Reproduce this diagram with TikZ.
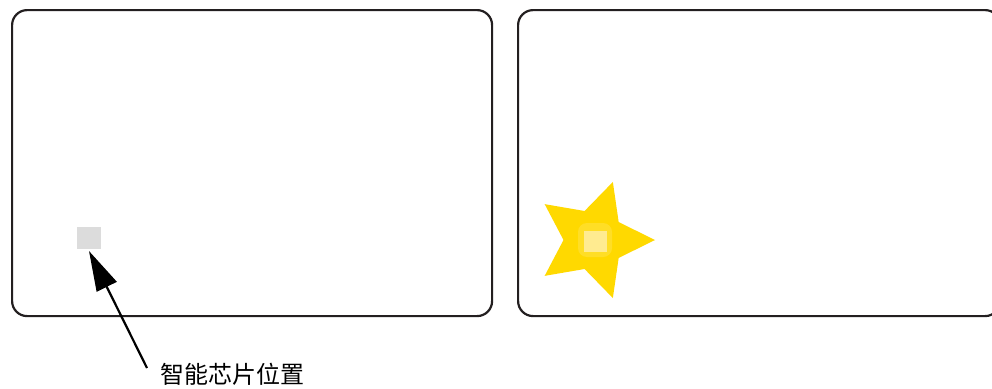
\documentclass[tikz,border=0pt]{standalone}
\usepackage{fontspec}
\newfontfamily\cjk{Noto Sans CJK SC}
\usetikzlibrary{arrows.meta,calc}
\definecolor{cardline}{HTML}{231F20}
\definecolor{chipgray}{HTML}{DCDCDC}
\definecolor{stargold}{HTML}{FFD900}
\definecolor{chiplight}{HTML}{FFEB90}
\tikzset{
  card/.style={draw=cardline, line width=2.2pt, rounded corners=15pt, fill=white},
  pointer/.style={draw=black, line width=2.2pt, -{Triangle[length=40pt,width=22pt]}},
  caption/.style={font=\cjk\fontsize{24pt}{28pt}\selectfont, text=black, inner sep=0pt}
}
\begin{document}
\begin{tikzpicture}[x=1pt,y=-1pt]
\useasboundingbox (0,0) rectangle (992,388);
\clip (0,0) rectangle (992,388);
% left card
\node[card, minimum width=480pt, minimum height=306pt, anchor=north west, inner sep=0pt] (cardL) at (11,9) {};
% right card
\node[card, minimum width=482pt, minimum height=306pt, anchor=north west, inner sep=0pt] (cardR) at (517,9) {};
% chip
\node[fill=chipgray, minimum width=24pt, minimum height=22pt, inner sep=0pt, anchor=north west] (chip) at (77,227) {};
% star
\coordinate (sc) at (594,240);
\fill[stargold]
  ($(sc)+(0:61)$) -- ($(sc)+(36:30.5)$) -- ($(sc)+(72:61)$) -- ($(sc)+(108:30.5)$) --
  ($(sc)+(144:61)$) -- ($(sc)+(180:30.5)$) -- ($(sc)+(216:61)$) -- ($(sc)+(252:30.5)$) --
  ($(sc)+(288:61)$) -- ($(sc)+(324:30.5)$) -- cycle;
\fill[white, opacity=0.15, rounded corners=9pt] (578,223) rectangle (612,257);
\node[fill=chiplight, minimum width=23pt, minimum height=21pt, inner sep=0pt, anchor=north west] (chipR) at (584,231) {};
% caption and pointer
\node[caption, anchor=west] (label) at (160,374) {智能芯片位置};
\coordinate (tail) at (147,368);
\coordinate (tip) at (89,251);
\draw[pointer] (tail) -- (tip);
\end{tikzpicture}
\end{document}
